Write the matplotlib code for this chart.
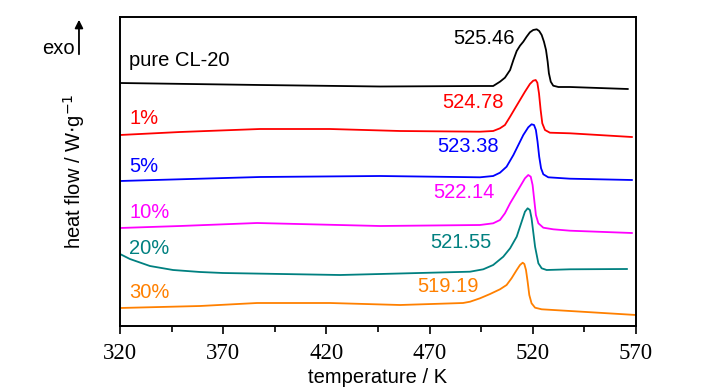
import matplotlib.pyplot as plt

# DSC curves (y is heat flow with offsets, arbitrary units)
t_pure = [320, 388, 446, 494, 500.8, 504.1, 506.5, 509.0, 510.6, 512.2, 513.8, 515.4, 517.0, 518.6,
          520.2, 521.9, 523.1, 524.3, 525.4, 526.4, 527.2, 527.8, 528.7, 529.9, 532.4, 538, 566]
y_pure = [243, 241, 239.5, 240, 240, 244.3, 248.3, 256, 266, 275, 280.3, 284.3, 289.3, 293.7,
          296, 296.7, 295, 291, 284.3, 276, 264.3, 252.7, 244.3, 240.3, 239, 239, 237]

t_1 = [320, 349.1, 387.8, 421.7, 455.7, 494.4, 500.8, 504.1, 506.5, 509.0, 511.4, 513.8, 516.2, 518.6,
       520.2, 521.4, 522.2, 523.0, 523.8, 524.6, 525.9, 528.3, 538, 568]
y_1 = [191, 194, 197, 197, 195, 194.3, 195, 197.7, 201, 209.3, 217.7, 226, 234.3, 242,
       245.3, 246, 243.3, 232.7, 216, 202.7, 196, 193.3, 192.7, 189]

t_5 = [320, 387.8, 446, 494.4, 500.8, 504.1, 507.3, 510.6, 513.0, 515.4, 517.8, 519.4, 520.6, 521.5,
       522.3, 523.1, 524.0, 525.1, 527.5, 538, 568]
y_5 = [145, 149, 150, 148.7, 150, 153.3, 159.3, 171, 181, 191, 198.7, 201.7, 201, 196,
       184.3, 169.3, 157.7, 151.7, 148.7, 147.3, 146]

t_10 = [320, 349.1, 386.4, 446, 494.4, 500.8, 504.1, 506.5, 509.0, 511.4, 513.8, 516.2, 517.8, 519.0,
        519.9, 520.7, 521.5, 522.7, 525.1, 529.9, 538, 568]
y_10 = [98, 100, 103, 100, 101, 102.7, 106, 112.7, 122.7, 131, 139.3, 147.7, 151, 149.3,
        141, 126, 111, 102.7, 98.3, 96.7, 95.3, 93]

t_20 = [320, 324.8, 334.5, 345.7, 358.8, 369.9, 426.6, 446, 489.6, 496.0, 500.8, 505.7, 509.0, 512.2,
        514.6, 516.2, 517.5, 518.6, 519.4, 520.2, 521.1, 521.9, 522.7, 524.3, 526.7, 538, 565.6]
y_20 = [72, 67, 60, 56, 54, 53, 51, 52, 54.3, 56.7, 61, 69.3, 77.7, 89.3,
        104.3, 114.3, 117.7, 116, 107.7, 94.3, 79.3, 71, 62.7, 57.7, 56, 56.7, 57]

t_30 = [320, 358.8, 386.4, 421.7, 455.7, 486.2, 489.6, 494.4, 499.3, 504.1, 507.3, 509.7, 512.2, 513.8,
        515.1, 515.9, 516.7, 517.5, 518.3, 519.4, 521.1, 524.3, 538, 570]
y_30 = [18, 20, 23, 23, 21, 23, 24.3, 27.7, 32, 36.7, 41, 47.7, 56, 61,
        63.3, 62, 56, 44.3, 31, 22.7, 18.3, 16.7, 15, 11]

names = ['pure CL-20', '1%', '5%', '10%', '20%', '30%']
peaks = ['525.46', '524.78', '523.38', '522.14', '521.55', '519.19']
colors = ['black', '#ff0000', '#0000ff', '#ff00ff', '#008080', '#ff8000']

# label anchor positions (data coords)
name_y = [265, 208, 159, 113, 77, 33]
peak_x = [511.4, 506.0, 503.6, 501.7, 500.2, 493.9]
peak_y = [287, 223, 179, 133, 84, 39]

curves = [(t_pure, y_pure), (t_1, y_1), (t_5, y_5), (t_10, y_10), (t_20, y_20), (t_30, y_30)]

fig = plt.figure(figsize=(7.21, 3.87), dpi=100)
ax = fig.add_axes([120 / 721, 61 / 387, 516 / 721, 309 / 387])

for (t, y), c in zip(curves, colors):
    ax.plot(t, y, color=c, lw=1.3)

sans = 'Liberation Sans'
for i in range(6):
    ax.text(324.4, name_y[i], names[i], color=colors[i], fontsize=14.5, family=sans,
            ha='left', va='center')
    ax.text(peak_x[i], peak_y[i], peaks[i], color=colors[i], fontsize=14.5, family=sans,
            ha='right', va='center')

ax.set_xlim(320, 570)
ax.set_ylim(0, 309)
ax.set_xticks([320, 370, 420, 470, 520, 570])
ax.set_xticks([345, 395, 445, 495, 545], minor=True)
ax.set_yticks([])
ax.tick_params(axis='x', which='major', direction='out', length=6, width=1.2, pad=6)
ax.tick_params(axis='x', which='minor', direction='out', length=4, width=1.2)
for lab in ax.get_xticklabels():
    lab.set_family('Liberation Serif')
    lab.set_fontsize(16.5)
for s in ax.spines.values():
    s.set_linewidth(1.4)

ax.set_xlabel('temperature / K', fontsize=14.5, family=sans, labelpad=3)
ax.set_ylabel(r'heat flow / W$\cdot$g$^{-1}$', fontsize=14.5, family=sans, labelpad=24)

# exo arrow
ax.text(-0.087, 278, 'exo', fontsize=14.5, family=sans, ha='right', va='center',
        transform=ax.get_yaxis_transform())
ax.annotate('', xy=(-0.0795, 309), xytext=(-0.0795, 269),
            xycoords=ax.get_yaxis_transform(), textcoords=ax.get_yaxis_transform(),
            arrowprops=dict(arrowstyle='-|>', color='black', lw=1.3, mutation_scale=12),
            annotation_clip=False)

fig.savefig('out.png', dpi=100)
